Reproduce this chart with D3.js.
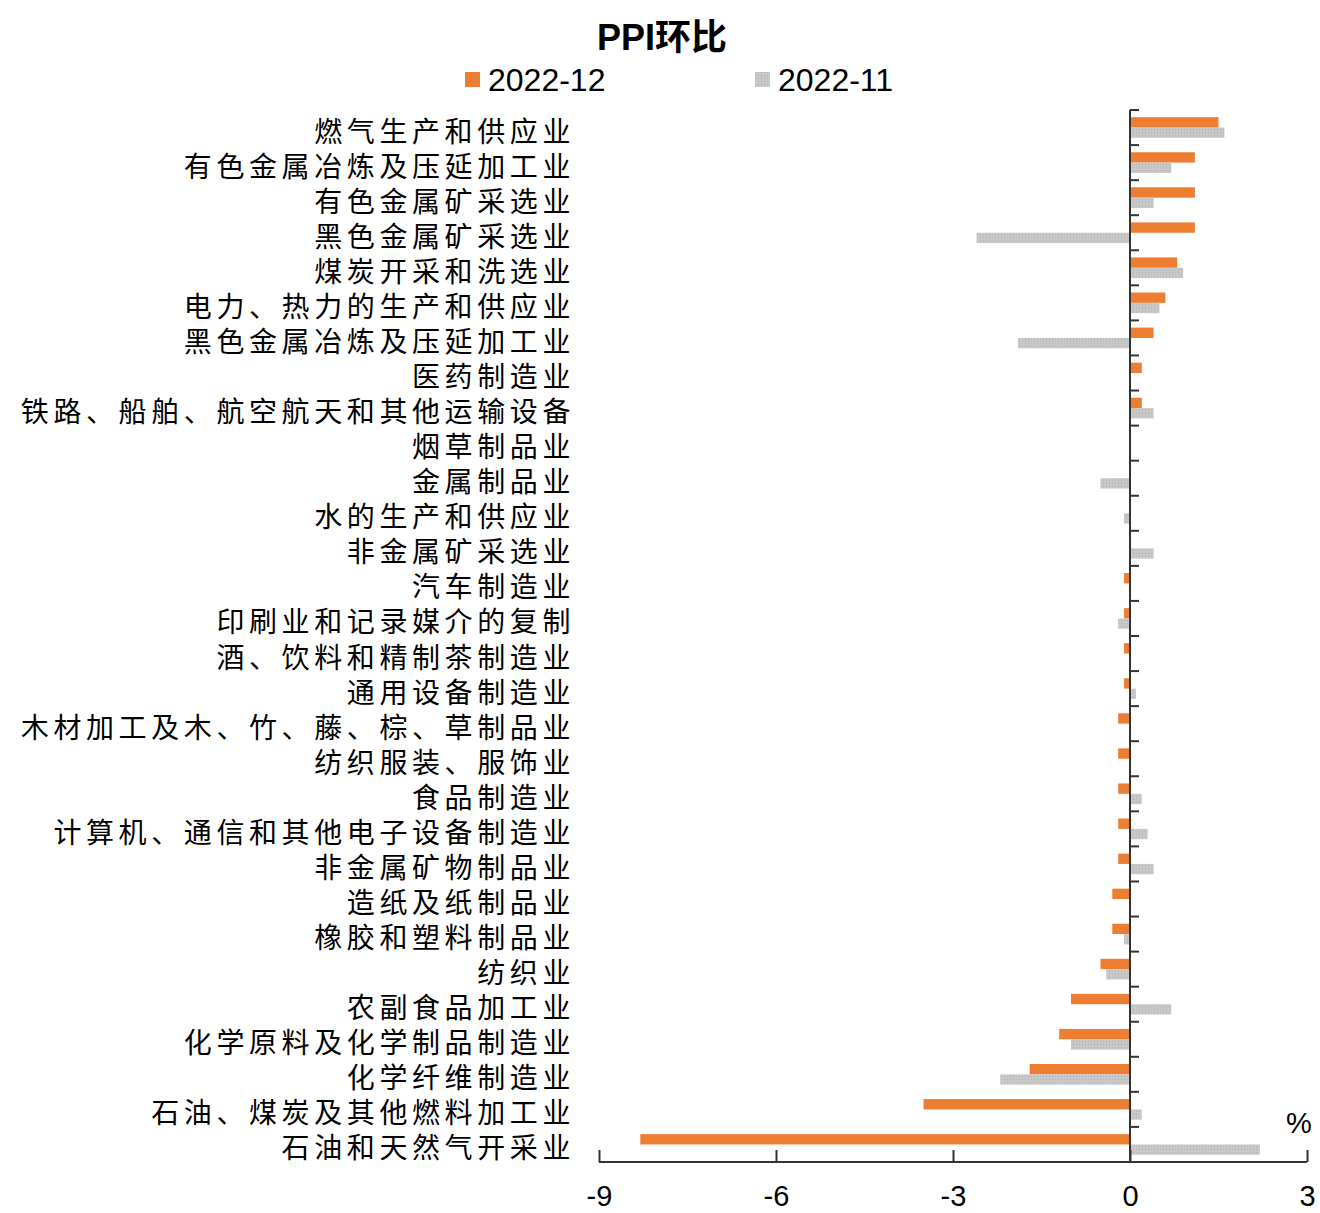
<!DOCTYPE html>
<html>
<head>
<meta charset="utf-8">
<script src="https://cdn.jsdelivr.net/npm/d3@7"></script>
<style>
  body { margin: 0; background: #fff; }
  text { font-family: "Liberation Sans", Arial, "Noto Sans CJK SC", sans-serif; fill: #000; }
  .cat { font-family: "Noto Sans CJK SC", sans-serif; }
</style>
</head>
<body>
<div id="chart"></div>
<script>
// Industry categories, top to bottom
const categories = [
  "燃气生产和供应业", "有色金属冶炼及压延加工业", "有色金属矿采选业", "黑色金属矿采选业",
  "煤炭开采和洗选业", "电力、热力的生产和供应业", "黑色金属冶炼及压延加工业", "医药制造业",
  "铁路、船舶、航空航天和其他运输设备", "烟草制品业", "金属制品业", "水的生产和供应业",
  "非金属矿采选业", "汽车制造业", "印刷业和记录媒介的复制", "酒、饮料和精制茶制造业",
  "通用设备制造业", "木材加工及木、竹、藤、棕、草制品业", "纺织服装、服饰业", "食品制造业",
  "计算机、通信和其他电子设备制造业", "非金属矿物制品业", "造纸及纸制品业", "橡胶和塑料制品业",
  "纺织业", "农副食品加工业", "化学原料及化学制品制造业", "化学纤维制造业",
  "石油、煤炭及其他燃料加工业", "石油和天然气开采业"
];
// PPI month-on-month, %
const dec2022 = [1.5, 1.1, 1.1, 1.1, 0.8, 0.6, 0.4, 0.2, 0.2, 0, 0, 0, 0, -0.1, -0.1, -0.1,
  -0.1, -0.2, -0.2, -0.2, -0.2, -0.2, -0.3, -0.3, -0.5, -1.0, -1.2, -1.7, -3.5, -8.3];
const nov2022 = [1.6, 0.7, 0.4, -2.6, 0.9, 0.5, -1.9, 0, 0.4, 0, -0.5, -0.1, 0.4, 0, -0.2, 0,
  0.1, 0, 0, 0.2, 0.3, 0.4, 0, -0.1, -0.4, 0.7, -1.0, -2.2, 0.2, 2.2];
const seriesNames = ["2022-12", "2022-11"];
const xTicks = [-9, -6, -3, 0, 3];

const W = 1320, H = 1213;
const margin = {top: 110, right: 13, bottom: 51, left: 599};
const width = W - margin.left - margin.right,
      height = H - margin.top - margin.bottom;

const svg = d3.select("#chart").append("svg")
  .attr("width", W).attr("height", H);

// gray pattern for the 2022-11 bars
const defs = svg.append("defs");
const pat = defs.append("pattern").attr("id", "grayDots")
  .attr("width", 3).attr("height", 3).attr("patternUnits", "userSpaceOnUse");
pat.append("rect").attr("width", 3).attr("height", 3).attr("fill", "#c6c6c6");
pat.append("rect").attr("width", 1).attr("height", 1).attr("fill", "#b3b3b3");
pat.append("rect").attr("x", 1.5).attr("y", 1.5).attr("width", 1).attr("height", 1).attr("fill", "#d2d2d2");

const colors = ["#ED7D31", "url(#grayDots)"];

const g = svg.append("g").attr("transform", `translate(${margin.left},${margin.top})`);

const x = d3.scaleLinear().domain([-9, 3]).range([0, width]);
const y = d3.scaleBand().domain(categories).range([0, height]).paddingInner(0.41).paddingOuter(0.205);
const sub = d3.scaleBand().domain(seriesNames).range([0, y.bandwidth()]);

const data = categories.map((c, i) => ({cat: c, vals: [dec2022[i], nov2022[i]]}));

// bars
const groups = g.selectAll(".grp").data(data).enter().append("g")
  .attr("transform", d => `translate(0,${y(d.cat)})`);
groups.selectAll("rect").data(d => d.vals.map((v, k) => ({v, k})))
  .enter().append("rect")
  .attr("x", d => x(Math.min(0, d.v)))
  .attr("width", d => Math.abs(x(d.v) - x(0)))
  .attr("y", d => sub(seriesNames[d.k]))
  .attr("height", sub.bandwidth())
  .attr("fill", d => colors[d.k]);

// x axis at bottom, ticks pointing up
const xAxis = g.append("g").attr("transform", `translate(0,${height})`)
  .call(d3.axisBottom(x).tickValues(xTicks).tickSize(-12).tickPadding(23).tickFormat(d3.format("d")));
xAxis.select(".domain").attr("d", `M0,0H${width}`).attr("stroke", "#333").attr("stroke-width", 2);
xAxis.selectAll(".tick line").attr("stroke", "#333").attr("stroke-width", 2);
xAxis.selectAll(".tick text").style("font-size", "29px").attr("dy", "0.71em")
  .text(d => d < 0 ? "-" + Math.abs(d) : d);

// y axis at zero with ticks on category boundaries
const step = y.step();
const bounds = d3.range(categories.length).map(i => i * step);
const yAxis = g.append("g").attr("transform", `translate(${x(0)},0)`);
yAxis.append("line").attr("y1", 0).attr("y2", height).attr("stroke", "#333").attr("stroke-width", 2);
yAxis.selectAll(".yt").data(bounds).enter().append("line")
  .attr("x1", 0).attr("x2", 9).attr("y1", d => d).attr("y2", d => d)
  .attr("stroke", "#333").attr("stroke-width", 2);

// category labels
svg.append("g").selectAll("text").data(categories).enter().append("text")
  .attr("class", "cat")
  .attr("x", 575)
  .attr("y", d => margin.top + y(d) + y.bandwidth() / 2 + 2)
  .attr("text-anchor", "end")
  .attr("dominant-baseline", "central")
  .style("font-size", "28px")
  .style("letter-spacing", "4.6px")
  .text(d => d);

// title
svg.append("text").attr("x", 662).attr("y", 37).attr("text-anchor", "middle")
  .attr("dominant-baseline", "central")
  .style("font-size", "36px").style("font-weight", "bold")
  .style("font-family", "'Liberation Sans', 'Noto Sans CJK SC', sans-serif")
  .text("PPI环比");

// legend
const legendX = [465, 755];
const legend = svg.append("g").selectAll("g").data(seriesNames).enter().append("g")
  .attr("transform", (d, i) => `translate(${legendX[i]},72)`);
legend.append("rect").attr("width", 15).attr("height", 15).attr("fill", (d, i) => colors[i]);
legend.append("text").attr("x", 23).attr("y", 8).attr("dominant-baseline", "central")
  .style("font-size", "32px").text(d => d);

// unit
svg.append("text").attr("x", 1299).attr("y", 1123).attr("text-anchor", "middle")
  .attr("dominant-baseline", "central").style("font-size", "29px").text("%");
</script>
</body>
</html>
